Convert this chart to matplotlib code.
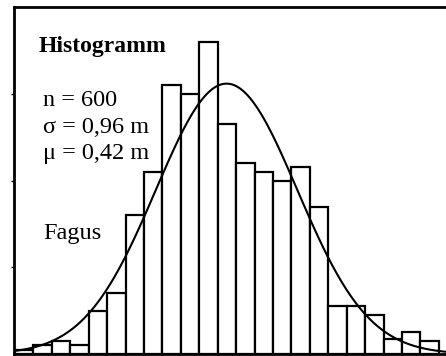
import matplotlib.pyplot as plt
import numpy as np

# Häufigkeiten je Klasse (Klassenbreite 0,25 m)
klassen_start = -2.45
klassen_breite = 0.25
haeufigkeit = [1, 2, 3, 2, 10, 14, 32, 42, 62, 60, 72, 53, 44, 42, 40, 43, 34,
               11, 11, 9, 3.5, 5, 3]

n = 600
sigma = 0.96
mu = 0.42

titel = "Histogramm"
infos = ["n = 600", "σ = 0,96 m", "μ = 0,42 m"]
art = "Fagus"

W, H = 446, 356
links_px = 13.7
breite_px = W + 4 - links_px
fig = plt.figure(figsize=(W / 100, H / 100), dpi=100)
ax = fig.add_axes([links_px / W, 2 / H, breite_px / W, 347 / H])

kanten = klassen_start + klassen_breite * np.arange(len(haeufigkeit))
ax.bar(kanten, haeufigkeit, width=klassen_breite, align='edge',
       color='white', edgecolor='black', linewidth=1.6)

# Normalverteilung mit den angegebenen Parametern
x = np.linspace(-2.6, 3.6, 400)
y = n * klassen_breite / (sigma * np.sqrt(2 * np.pi)) * np.exp(-0.5 * ((x - mu) / sigma) ** 2)
ax.plot(x, y, color='black', linewidth=1.5)

px_pro_m = 18.43 / klassen_breite
x0 = klassen_start - (15 - links_px) / px_pro_m
ax.set_xlim(x0, x0 + breite_px / px_pro_m)
ax.set_ylim(0, 80)
ax.set_xticks([])
ax.set_yticks([20, 40, 60])
ax.set_yticklabels([])
ax.tick_params(axis='y', direction='out', length=2, width=1)
for s in ax.spines.values():
    s.set_linewidth(2)

schrift = 'Liberation Serif'
fig.text(39 / W, 1 - 52 / H, titel, fontsize=17, fontweight='bold',
         family=schrift, va='baseline')
for i, t in enumerate(infos):
    fig.text(43 / W, 1 - (106 + 26.7 * i) / H, t, fontsize=17.5,
             family=schrift, va='baseline')
fig.text(43 / W, 1 - 239 / H, art, fontsize=17.5, family=schrift, va='baseline')

fig.savefig('out.png', dpi=100)
